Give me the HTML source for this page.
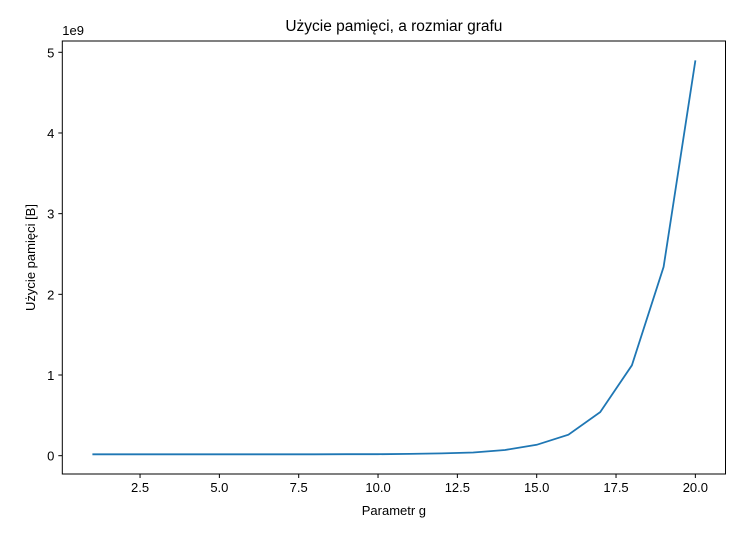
<!DOCTYPE html>
<html><head><meta charset="utf-8"><style>
body{margin:0;background:#fff;font-family:"Liberation Sans","DejaVu Sans",sans-serif;}
text{font-family:"Liberation Sans","DejaVu Sans",sans-serif;font-size:13px;fill:#000;}
</style></head><body>
<svg id="chart" width="747" height="540"></svg>
<script>
const xs=[1,2,3,4,5,6,7,8,9,10,11,12,13,14,15,16,17,18,19,20];
const memory=[0.017,0.017,0.017,0.017,0.017,0.017,0.017,0.017,0.018,0.019,0.022,0.028,0.04,0.07,0.135,0.26,0.54,1.12,2.34,4.9];
const xTicks=[2.5,5.0,7.5,10.0,12.5,15.0,17.5,20.0];
const yTicks=[0,1,2,3,4,5];
const L=62.3,R=725.5,T=41,B=474;
const xMin=0.05,xMax=20.95,yMin=-0.227,yMax=5.14;
const X=v=>L+(v-xMin)/(xMax-xMin)*(R-L);
const Y=v=>B-(v-yMin)/(yMax-yMin)*(B-T);
const svg=document.getElementById('chart');
const NS='http://www.w3.org/2000/svg';
function mk(tag,attrs,txt){const e=document.createElementNS(NS,tag);for(const k in attrs)e.setAttribute(k,attrs[k]);if(txt!==undefined)e.textContent=txt;svg.appendChild(e);return e;}
let fr=mk('rect',{x:L,y:T,width:R-L,height:B-T,fill:'none',stroke:'#000','stroke-width':1});


xTicks.forEach(t=>{
 let l=mk('line',{x1:X(t),x2:X(t),y1:B,y2:B+4,stroke:'#000'});
 
 
 let s=mk('text',{x:X(t),y:B+18,'text-anchor':'middle'},t.toFixed(1));
 
 
});
yTicks.forEach(t=>{
 let l=mk('line',{x1:L-4,x2:L,y1:Y(t),y2:Y(t),stroke:'#000'});
 
 
 let s=mk('text',{x:L-8,y:Y(t)+5,'text-anchor':'end'},String(t));
 
 
});
let pts=xs.map((x,i)=>X(x).toFixed(1)+','+Y(memory[i]).toFixed(1)).join(' ');
let pl=mk('polyline',{points:pts,fill:'none',stroke:'#1f77b4','stroke-width':1.8});


let e=mk('text',{x:L,y:T-6},'1e9');


let ti=mk('text',{x:(L+R)/2,y:T-10,'text-anchor':'middle','font-size':'15'},'Użycie pamięci, a rozmiar grafu');
ti.style.fontSize='15.5px';


let xl=mk('text',{x:(L+R)/2,y:515,'text-anchor':'middle'},'Parametr g');


let yl=mk('text',{x:35,y:(T+B)/2,'text-anchor':'middle',transform:'rotate(-90 35 '+(T+B)/2+')'},'Użycie pamięci [B]');


</script>
</body></html>
